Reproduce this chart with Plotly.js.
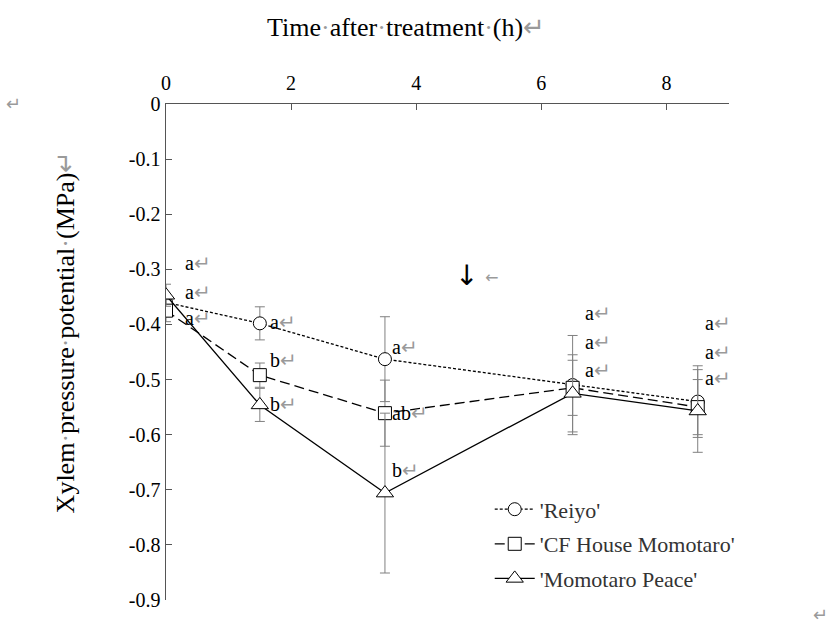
<!DOCTYPE html>
<html>
<head>
<meta charset="utf-8">
<script src="https://cdn.plot.ly/plotly-3.0.1.min.js"></script>
<style>html,body{margin:0;padding:0;background:#fff;}</style>
</head>
<body>
<div id="chart" style="width:833px;height:626px;"></div>
<script>
// Data
const hours = [0, 1.5, 3.5, 6.5, 8.5];
const reiyo = [-0.36, -0.398, -0.463, -0.51, -0.54];
const reiyoErr = [0.015, 0.03, 0.077, 0.09, 0.065];
const cfHouse = [-0.375, -0.492, -0.561, -0.515, -0.55];
const cfHouseErr = [0.02, 0.022, 0.06, 0.05, 0.05];
const peace = [-0.347, -0.546, -0.706, -0.525, -0.557];
const peaceErr = [0.02, 0.03, 0.145, 0.07, 0.075];
const seriesNames = ["'Reiyo'", "'CF House Momotaro'", "'Momotaro Peace'"];
const yTickVals = [0, -0.1, -0.2, -0.3, -0.4, -0.5, -0.6, -0.7, -0.8, -0.9];
const yTickText = ["0", "-0.1", "-0.2", "-0.3", "-0.4", "-0.5", "-0.6", "-0.7", "-0.8", "-0.9"];
const xTickVals = [0, 2, 4, 6, 8];
// significance letters per time point: [Reiyo, CF House, Peace] (top to bottom)
const letters = [
  ["a", "a", "a"],
  ["a", "b", "b"],
  ["a", "ab", "b"],
  ["a", "a", "a"],
  ["a", "a", "a"]
];

const RET = "<span style='color:#9a9a9a'>↵</span>";
const DOT = "<span style='color:#9a9a9a'>·</span>";
const FONT = "Liberation Serif";

function trace(y, err, name, symbol, dash, group) {
  return {
    x: hours, y: y, name: name, type: 'scatter', mode: 'lines+markers',
    legendgroup: group,
    line: {color: '#000', width: 1.3, dash: dash},
    marker: {symbol: symbol, size: symbol === 'triangle-up' ? 15 : 13, color: '#fff', line: {color: '#000', width: 1}},
    error_y: {type: 'data', array: err, visible: true, color: '#808080', thickness: 1, width: 5}
  };
}

const data = [
  trace(reiyo, reiyoErr, seriesNames[0], 'circle', '3px,2px', 'g1'),
  trace(cfHouse, cfHouseErr, seriesNames[1], 'square', '10px,5px', 'g2'),
  trace(peace, peaceErr, seriesNames[2], 'triangle-up', 'solid', 'g3')
];

// letter annotation positions (layout only)
const letterX = [0.27, 1.63, 3.58, 6.66, 8.58];
const letterY = [
  [-0.289, -0.341, -0.388],
  [-0.396, -0.465, -0.545],
  [-0.441, -0.561, -0.664],
  [-0.379, -0.432, -0.483],
  [-0.397, -0.450, -0.497]
];
const annotations = [];
letters.forEach((grp, i) => {
  grp.forEach((l, j) => {
    annotations.push({
      x: letterX[i], y: letterY[i][j], xref: 'x', yref: 'y', xanchor: 'left', yanchor: 'middle',
      text: l + RET, showarrow: false, font: {family: FONT, size: 20, color: '#000'}
    });
  });
});
// treatment arrow
annotations.push({x: 4.8, y: -0.312, xref: 'x', yref: 'y', xanchor: 'center', yanchor: 'middle',
  text: '↓', showarrow: false, font: {family: 'DejaVu Sans', size: 28, color: '#000'}});
annotations.push({x: 5.2, y: -0.315, xref: 'x', yref: 'y', xanchor: 'center', yanchor: 'middle',
  text: '←', showarrow: false, font: {family: 'DejaVu Sans', size: 16, color: '#9a9a9a'}});
// top axis title
annotations.push({x: 0.426, y: 1.155, xref: 'paper', yref: 'paper', xanchor: 'center', yanchor: 'middle',
  text: 'Time' + DOT + 'after' + DOT + 'treatment' + DOT + '(h)' + RET, showarrow: false,
  font: {family: FONT, size: 26, color: '#000'}});
// left axis title
annotations.push({x: -0.179, y: 0.54, xref: 'paper', yref: 'paper', xanchor: 'center', yanchor: 'middle',
  textangle: -90,
  text: 'Xylem' + DOT + 'pressure' + DOT + 'potential' + DOT + '(MPa)' + RET, showarrow: false,
  font: {family: FONT, size: 26, color: '#000'}});
// stray paragraph marks
annotations.push({x: -0.27, y: 1.0, xref: 'paper', yref: 'paper', xanchor: 'center', yanchor: 'middle',
  text: '↵', showarrow: false, font: {family: FONT, size: 18, color: '#9a9a9a'}});
annotations.push({x: 1.163, y: -0.03, xref: 'paper', yref: 'paper', xanchor: 'center', yanchor: 'middle',
  text: '↵', showarrow: false, font: {family: FONT, size: 18, color: '#9a9a9a'}});

const layout = {
  width: 833, height: 626,
  margin: {l: 166, r: 104, t: 104, b: 26},
  paper_bgcolor: '#fff', plot_bgcolor: '#fff',
  font: {family: FONT, size: 18, color: '#000'},
  showlegend: true,
  legend: {
    x: 0.575, y: 0.225, xanchor: 'left', yanchor: 'top',
    bgcolor: 'rgba(0,0,0,0)', font: {family: FONT, size: 22, color: '#333'},
    traceorder: 'grouped', tracegroupgap: 3, itemwidth: 40
  },
  xaxis: {
    side: 'top', range: [0, 9], tickvals: xTickVals,
    ticks: 'inside', ticklen: 6, tickcolor: '#555', tickwidth: 1,
    showline: true, linecolor: '#555', linewidth: 1.5, showgrid: false, zeroline: false,
    tickfont: {family: FONT, size: 20}, ticklabelstandoff: 5
  },
  yaxis: {
    range: [-0.9, 0], tickvals: yTickVals, ticktext: yTickText,
    ticks: 'inside', ticklen: 6, tickcolor: '#555', tickwidth: 1,
    showline: true, linecolor: '#555', linewidth: 1.5, showgrid: false, zeroline: false,
    tickfont: {family: FONT, size: 20}
  },
  annotations: annotations
};

Plotly.newPlot('chart', data, layout, {displayModeBar: false, staticPlot: true});
</script>
</body>
</html>
